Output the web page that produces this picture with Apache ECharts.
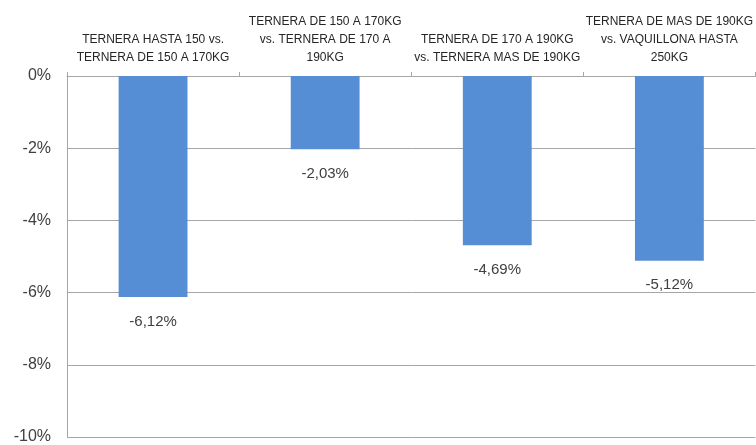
<!DOCTYPE html>
<html>
<head>
<meta charset="utf-8">
<script src="https://cdn.jsdelivr.net/npm/echarts@6/dist/echarts.min.js"></script>
<style>html,body{margin:0;padding:0;background:#fff}#c{width:756px;height:445px}</style>
</head>
<body>
<div id="c"></div>
<script>
const categories = [
  "TERNERA HASTA 150 vs.\nTERNERA DE 150 A 170KG",
  "TERNERA DE 150 A 170KG\nvs. TERNERA DE 170 A\n190KG",
  "TERNERA DE 170 A 190KG\nvs. TERNERA MAS DE 190KG",
  "TERNERA DE MAS DE 190KG\nvs. VAQUILLONA HASTA\n250KG"
];
const values = [-6.12, -2.03, -4.69, -5.12];
const yTicks = [0, -2, -4, -6, -8, -10];

const chart = echarts.init(document.getElementById('c'));
chart.setOption({
  animation: false,
  grid: { left: 67, right: 0, top: 76, bottom: 5.5 },
  xAxis: {
    type: 'category',
    position: 'top',
    data: categories,
    axisLine: { lineStyle: { color: '#a6a6a6', width: 1 } },
    axisTick: { show: true, length: 4, lineStyle: { color: '#a6a6a6' } },
    axisLabel: {
      interval: 0,
      margin: 9,
      fontFamily: 'Liberation Sans',
      fontSize: 12,
      lineHeight: 18,
      color: '#262626'
    }
  },
  yAxis: {
    type: 'value',
    min: -10,
    max: 0,
    interval: 2,
    axisLine: { show: true, lineStyle: { color: '#a6a6a6' } },
    axisTick: { show: false },
    splitLine: { lineStyle: { color: '#a6a6a6', width: 1 } },
    axisLabel: {
      margin: 16,
      fontFamily: 'Liberation Sans',
      fontSize: 16,
      color: '#404040',
      formatter: v => yTicks.includes(v) ? v + '%' : ''
    }
  },
  series: [{
    type: 'bar',
    data: values,
    barWidth: '40%',
    itemStyle: { color: '#558ed5' },
    label: {
      show: true,
      position: 'bottom',
      distance: 17,
      fontFamily: 'Liberation Sans',
      fontSize: 15,
      color: '#404040',
      formatter: p => p.value.toFixed(2).replace('.', ',') + '%'
    }
  }]
});
</script>
</body>
</html>
